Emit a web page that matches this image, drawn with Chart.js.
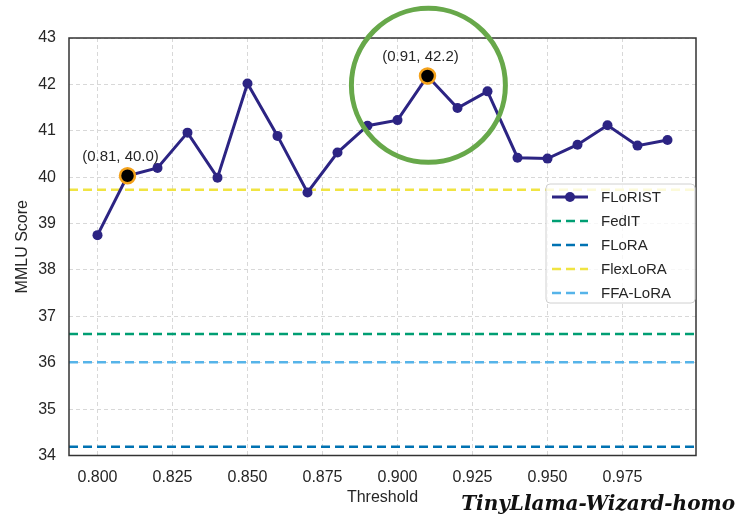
<!DOCTYPE html>
<html>
<head>
<meta charset="utf-8">
<script src="https://cdn.jsdelivr.net/npm/chart.js@4.4.1/dist/chart.umd.min.js"></script>
<style>
  html, body { margin: 0; padding: 0; background: #fff; }
  #wrap { position: relative; width: 736px; height: 516px; }
  #caption {
    position: absolute; right: 1px; top: 491px;
    font-family: 'DejaVu Serif', 'Liberation Serif', serif;
    font-weight: bold; font-style: italic; font-size: 20px; color: #111;
    white-space: nowrap;
  }
</style>
</head>
<body>
<div id="wrap">
  <canvas id="chart" width="736" height="516"></canvas>
  <div id="caption">TinyLlama-Wizard-homo</div>
</div>
<script>
// Chart values
const thresholds = [0.80, 0.81, 0.82, 0.83, 0.84, 0.85, 0.86, 0.87, 0.88, 0.89,
                    0.90, 0.91, 0.92, 0.93, 0.94, 0.95, 0.96, 0.97, 0.98, 0.99];
const floristScores = [38.75, 40.03, 40.20, 40.96, 39.99, 42.02, 40.89, 39.67, 40.53, 41.11,
                       41.23, 42.18, 41.49, 41.85, 40.42, 40.40, 40.70, 41.12, 40.68, 40.80];
const baselineNames = ['FedIT', 'FLoRA', 'FlexLoRA', 'FFA-LoRA'];
const baselineScores = [36.62, 34.19, 39.73, 36.01];
const baselineColors = ['#009E73', '#0072B2', '#F0E442', '#56B4E9'];
const highlightIndex = [1, 11];
const highlightLabels = ['(0.81, 40.0)', '(0.91, 42.2)'];
const xTicks = [0.800, 0.825, 0.850, 0.875, 0.900, 0.925, 0.950, 0.975];
const yTicks = [34, 35, 36, 37, 38, 39, 40, 41, 42, 43];
const xMin = 0.7905, xMax = 0.9995;

Chart.defaults.font.family = "'Liberation Sans', Arial, sans-serif";
Chart.defaults.color = '#262626';

const lineColor = '#2c2483';
const textColor = '#262626';

const datasets = [{
  label: 'FLoRIST',
  data: thresholds.map((t, i) => ({ x: t, y: floristScores[i] })),
  borderColor: lineColor,
  backgroundColor: lineColor,
  borderWidth: 3,
  pointRadius: c => highlightIndex.includes(c.dataIndex) ? 7.5 : 5,
  pointBackgroundColor: c => highlightIndex.includes(c.dataIndex) ? '#000' : lineColor,
  pointBorderColor: c => highlightIndex.includes(c.dataIndex) ? '#f4a21c' : lineColor,
  pointBorderWidth: c => highlightIndex.includes(c.dataIndex) ? 2.5 : 0,
  order: 0
}];
baselineNames.forEach((name, i) => {
  datasets.push({
    label: name,
    data: [{ x: xMin, y: baselineScores[i] }, { x: xMax, y: baselineScores[i] }],
    borderColor: baselineColors[i],
    backgroundColor: baselineColors[i],
    borderWidth: 2.5,
    borderDash: [9, 5],
    pointRadius: 0,
    order: 1
  });
});

// frame, annotations, legend and highlight circle
const overlay = {
  id: 'overlay',
  afterDraw(chart) {
    const { ctx, chartArea: a, scales: { x, y } } = chart;
    ctx.save();

    // axes frame
    ctx.strokeStyle = '#333';
    ctx.lineWidth = 1.5;
    ctx.strokeRect(a.left, a.top, a.right - a.left, a.bottom - a.top);

    // point annotations
    ctx.font = "15px 'Liberation Sans', Arial, sans-serif";
    ctx.fillStyle = textColor;
    ctx.textAlign = 'center';
    ctx.textBaseline = 'middle';
    highlightIndex.forEach((idx, k) => {
      const px = x.getPixelForValue(thresholds[idx]);
      const py = y.getPixelForValue(floristScores[idx]);
      ctx.fillText(highlightLabels[k], px - 7, py - 19);
    });

    // legend
    const lx = 546, ly = 184, lw = 149, lh = 119;
    ctx.fillStyle = 'rgba(255,255,255,0.8)';
    ctx.strokeStyle = '#d0d0d0';
    ctx.lineWidth = 1;
    ctx.beginPath();
    ctx.roundRect(lx, ly, lw, lh, 4);
    ctx.fill();
    ctx.stroke();
    ctx.textAlign = 'left';
    chart.data.datasets.forEach((ds, i) => {
      const ry = ly + 13 + i * 24;
      ctx.strokeStyle = ds.borderColor;
      ctx.lineWidth = ds.borderWidth;
      ctx.setLineDash(ds.borderDash || []);
      ctx.beginPath();
      ctx.moveTo(lx + 6, ry);
      ctx.lineTo(lx + 42, ry);
      ctx.stroke();
      ctx.setLineDash([]);
      if (i === 0) {
        ctx.fillStyle = ds.borderColor;
        ctx.beginPath();
        ctx.arc(lx + 24, ry, 5, 0, Math.PI * 2);
        ctx.fill();
      }
      ctx.fillStyle = textColor;
      ctx.fillText(ds.label, lx + 55, ry + 1);
    });

    // highlight circle around the peak
    const cx = x.getPixelForValue(0.9103);
    const cy = y.getPixelForValue(41.98);
    ctx.strokeStyle = '#67a84a';
    ctx.lineWidth = 5;
    ctx.beginPath();
    ctx.arc(cx, cy, 77, 0, Math.PI * 2);
    ctx.stroke();

    ctx.restore();
  }
};

new Chart(document.getElementById('chart'), {
  type: 'line',
  data: { datasets },
  options: {
    responsive: false,
    animation: false,
    layout: { padding: { left: 0, top: 38, right: 40, bottom: 0 } },
    plugins: { legend: { display: false }, tooltip: { enabled: false } },
    scales: {
      x: {
        type: 'linear',
        min: xMin,
        max: xMax,
        afterBuildTicks: s => { s.ticks = xTicks.map(v => ({ value: v })); },
        afterFit: s => { s.height = 60.5; },
        ticks: {
          callback: v => v.toFixed(3),
          font: { size: 16 },
          padding: 12,
          color: textColor
        },
        grid: { color: '#d8d8d8', lineWidth: 1, drawTicks: false },
        border: { display: true, width: 0, dash: [4, 3] },
        title: {
          display: true, text: 'Threshold', font: { size: 16 },
          color: textColor, padding: { top: 0, bottom: 9 }
        }
      },
      y: {
        min: 34,
        max: 43,
        afterBuildTicks: s => { s.ticks = yTicks.map(v => ({ value: v })); },
        afterFit: s => { s.width = 69; },
        ticks: { font: { size: 16 }, padding: 13, color: textColor },
        grid: { color: '#d8d8d8', lineWidth: 1, drawTicks: false },
        border: { display: true, width: 0, dash: [4, 3] },
        title: {
          display: true, text: 'MMLU Score', font: { size: 16 },
          color: textColor, padding: { top: 13, bottom: 0 }
        }
      }
    }
  },
  plugins: [overlay]
});
</script>
</body>
</html>
